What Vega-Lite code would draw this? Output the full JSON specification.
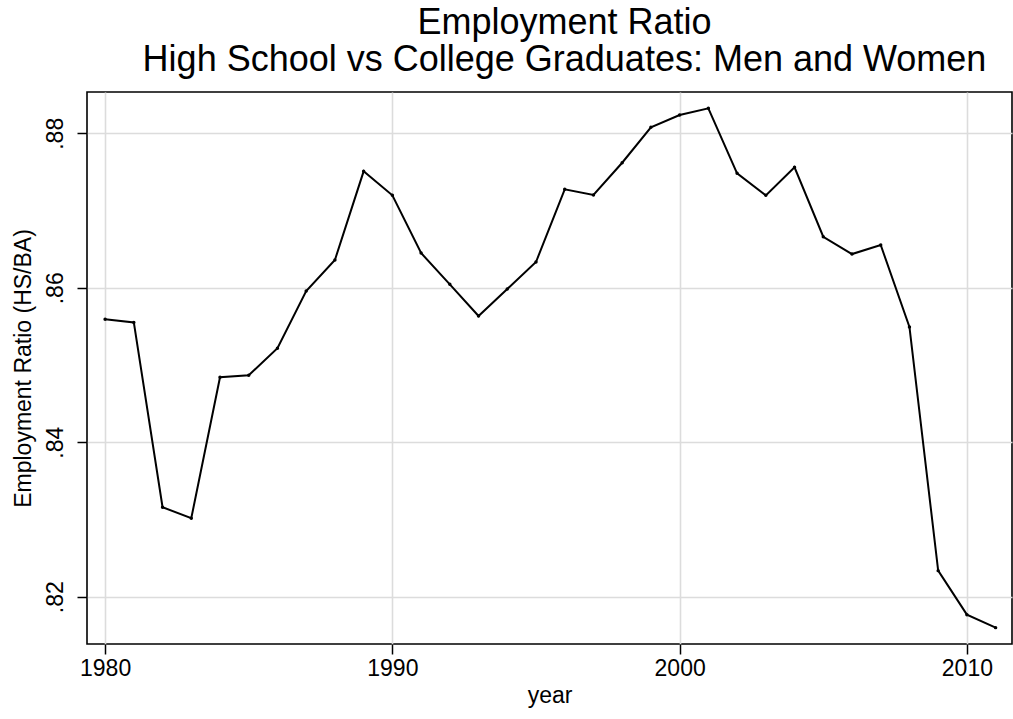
{
  "$schema": "https://vega.github.io/schema/vega-lite/v6.json",
  "autosize": {"type": "none"},
  "padding": {"left": 87, "top": 92, "right": 1, "bottom": 75},
  "width": 925,
  "height": 552,
  "background": "white",
  "config": {
    "font": "Liberation Sans",
    "view": {"stroke": "black", "strokeWidth": 1.6}
  },
  "title": {
    "text": ["Employment Ratio", "High School vs College Graduates: Men and Women"],
    "fontSize": 36,
    "fontWeight": "normal",
    "lineHeight": 37,
    "color": "black",
    "anchor": "middle",
    "dx": 15,
    "offset": 13
  },
  "data": {
    "values": [
      {"year": 1980, "ratio": 0.85592},
      {"year": 1981, "ratio": 0.85551},
      {"year": 1982, "ratio": 0.83159},
      {"year": 1983, "ratio": 0.83016},
      {"year": 1984, "ratio": 0.84841},
      {"year": 1985, "ratio": 0.84867},
      {"year": 1986, "ratio": 0.85217},
      {"year": 1987, "ratio": 0.85959},
      {"year": 1988, "ratio": 0.86360},
      {"year": 1989, "ratio": 0.87508},
      {"year": 1990, "ratio": 0.87197},
      {"year": 1991, "ratio": 0.86450},
      {"year": 1992, "ratio": 0.86045},
      {"year": 1993, "ratio": 0.85635},
      {"year": 1994, "ratio": 0.85984},
      {"year": 1995, "ratio": 0.86334},
      {"year": 1996, "ratio": 0.87275},
      {"year": 1997, "ratio": 0.87201},
      {"year": 1998, "ratio": 0.87619},
      {"year": 1999, "ratio": 0.88078},
      {"year": 2000, "ratio": 0.88237},
      {"year": 2001, "ratio": 0.88324},
      {"year": 2002, "ratio": 0.87482},
      {"year": 2003, "ratio": 0.87197},
      {"year": 2004, "ratio": 0.87560},
      {"year": 2005, "ratio": 0.86661},
      {"year": 2006, "ratio": 0.86437},
      {"year": 2007, "ratio": 0.86554},
      {"year": 2008, "ratio": 0.85493},
      {"year": 2009, "ratio": 0.82338},
      {"year": 2010, "ratio": 0.81768},
      {"year": 2011, "ratio": 0.81600}
    ]
  },
  "encoding": {
    "x": {
      "field": "year",
      "type": "quantitative",
      "scale": {"domain": [1979.37, 2011.57], "nice": false, "zero": false},
      "axis": {
        "title": "year",
        "values": [1980, 1990, 2000, 2010],
        "format": "d",
        "domain": false,
        "grid": true,
        "gridColor": "#dcdcdc",
        "gridWidth": 1.6,
        "ticks": true,
        "tickColor": "black",
        "tickSize": 10,
        "tickWidth": 1.5,
        "labelFontSize": 23,
        "labelColor": "black",
        "labelPadding": 3,
        "titleFontSize": 23,
        "titleFontWeight": "normal",
        "titleColor": "black",
        "titlePadding": 4
      }
    },
    "y": {
      "field": "ratio",
      "type": "quantitative",
      "scale": {"domain": [0.81388, 0.88535], "nice": false, "zero": false},
      "axis": {
        "title": "Employment Ratio (HS/BA)",
        "values": [0.82, 0.84, 0.86, 0.88],
        "labelExpr": "substring(format(datum.value, '.2f'), 1)",
        "domain": false,
        "grid": true,
        "gridColor": "#dcdcdc",
        "gridWidth": 1.6,
        "ticks": true,
        "tickColor": "black",
        "tickSize": 10,
        "tickWidth": 1.5,
        "labelFontSize": 23,
        "labelColor": "black",
        "labelAngle": 270,
        "labelAlign": "center",
        "labelBaseline": "bottom",
        "labelPadding": 10,
        "titleFontSize": 23,
        "titleFontWeight": "normal",
        "titleColor": "black",
        "titlePadding": 9
      }
    }
  },
  "layer": [
    {"mark": {"type": "line", "color": "black", "strokeWidth": 2}},
    {"mark": {"type": "point", "filled": true, "color": "black", "size": 12, "opacity": 1}}
  ]
}
